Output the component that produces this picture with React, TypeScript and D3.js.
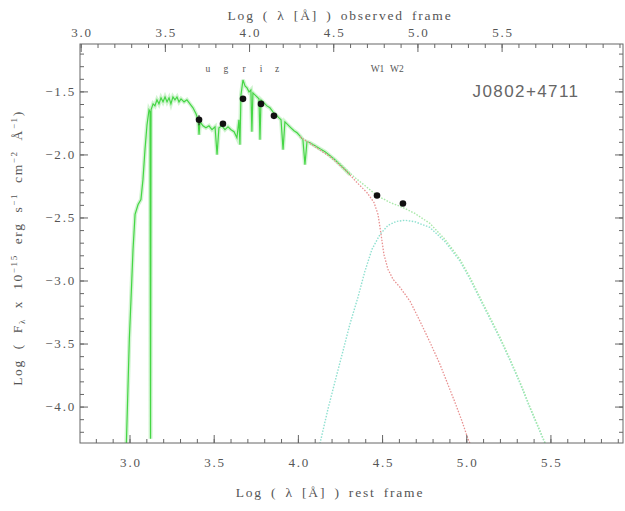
import React from "react";
import * as d3 from "d3";

// ---- data (rest-frame log wavelength, log flux) ----
const specX = [2.976, 2.986, 2.996, 3.006, 3.018, 3.030, 3.048, 3.065, 3.077, 3.089, 3.101, 3.113, 3.119, 3.122, 3.125, 3.137, 3.148, 3.160, 3.172, 3.184, 3.196, 3.208, 3.220, 3.232, 3.243, 3.255, 3.267, 3.279, 3.291, 3.303, 3.321, 3.338, 3.356, 3.374, 3.392, 3.404, 3.410, 3.416, 3.433, 3.451, 3.469, 3.487, 3.505, 3.517, 3.528, 3.546, 3.564, 3.582, 3.600, 3.618, 3.635, 3.647, 3.653, 3.659, 3.671, 3.683, 3.695, 3.707, 3.718, 3.724, 3.730, 3.748, 3.766, 3.772, 3.778, 3.796, 3.813, 3.831, 3.849, 3.867, 3.885, 3.897, 3.909, 3.920, 3.938, 3.956, 3.974, 3.992, 4.009, 4.027, 4.039, 4.051, 4.069, 4.099, 4.128, 4.158, 4.188, 4.217, 4.247, 4.277, 4.306];
const specY = [-4.40, -3.935, -3.460, -3.144, -2.749, -2.472, -2.393, -2.354, -2.196, -1.958, -1.761, -1.642, -1.658, -4.251, -1.642, -1.595, -1.611, -1.563, -1.595, -1.547, -1.579, -1.540, -1.579, -1.547, -1.595, -1.540, -1.563, -1.540, -1.579, -1.555, -1.579, -1.563, -1.595, -1.626, -1.674, -1.721, -1.840, -1.737, -1.769, -1.785, -1.769, -1.800, -1.777, -1.998, -1.785, -1.769, -1.800, -1.777, -1.800, -1.816, -1.864, -1.721, -1.919, -1.524, -1.405, -1.453, -1.468, -1.500, -1.484, -1.816, -1.508, -1.532, -1.555, -1.879, -1.563, -1.587, -1.611, -1.626, -1.658, -1.682, -1.706, -1.721, -1.958, -1.737, -1.761, -1.785, -1.808, -1.824, -1.848, -1.879, -2.077, -1.895, -1.903, -1.927, -1.951, -1.974, -2.006, -2.038, -2.077, -2.117, -2.156];

const totalX = [4.009, 4.128, 4.247, 4.336, 4.395, 4.467, 4.544, 4.621, 4.692, 4.781, 4.871, 4.960, 5.019, 5.078, 5.138, 5.197, 5.257, 5.316, 5.375, 5.435, 5.470];
const totalY = [-1.856, -1.958, -2.069, -2.180, -2.243, -2.322, -2.377, -2.417, -2.464, -2.543, -2.670, -2.828, -2.970, -3.128, -3.287, -3.445, -3.619, -3.800, -3.998, -4.188, -4.298];

const dustX = [4.128, 4.176, 4.217, 4.265, 4.306, 4.354, 4.395, 4.437, 4.485, 4.532, 4.580, 4.633, 4.692, 4.781, 4.871, 4.960, 5.019, 5.078, 5.138, 5.197, 5.257, 5.316, 5.375, 5.435, 5.470];
const dustY = [-4.290, -4.014, -3.800, -3.555, -3.342, -3.128, -2.923, -2.749, -2.630, -2.559, -2.528, -2.518, -2.530, -2.575, -2.688, -2.842, -2.984, -3.142, -3.300, -3.457, -3.630, -3.810, -4.006, -4.196, -4.306];

const diskX = [4.009, 4.099, 4.188, 4.277, 4.348, 4.407, 4.449, 4.473, 4.491, 4.508, 4.532, 4.562, 4.603, 4.663, 4.722, 4.781, 4.840, 4.882, 4.929, 4.971, 5.007, 5.025];
const diskY = [-1.856, -1.935, -2.014, -2.117, -2.219, -2.298, -2.377, -2.472, -2.630, -2.789, -2.907, -2.986, -3.049, -3.160, -3.318, -3.484, -3.658, -3.800, -3.959, -4.109, -4.251, -4.306];

const photX = [3.410, 3.552, 3.671, 3.778, 3.855, 4.467, 4.621];
const photY = [-1.721, -1.753, -1.555, -1.595, -1.690, -2.322, -2.385];
const photErrLo = [-1.765, -1.770, -1.570, -1.610, -1.705, -2.335, -2.398];
const photErrHi = [-1.685, -1.736, -1.540, -1.580, -1.675, -2.309, -2.372];

const filterNames = ["u", "g", "r", "i", "z", "W1", "W2"];
const filterX = [3.463, 3.570, 3.677, 3.778, 3.873, 4.470, 4.585];

const xMajor = [3.0, 3.5, 4.0, 4.5, 5.0, 5.5];
const yMajor = [-4.0, -3.5, -3.0, -2.5, -2.0, -1.5];
const obsOffset = 0.29;
const objectName = "J0802+4711";

const W = 625, H = 511;
const L = 80, R = 623, T = 44, B = 443;

export default function App() {
  const x = d3.scaleLinear().domain([2.703, 5.928]).range([L, R]);
  const y = d3.scaleLinear().domain([-4.285, -1.12]).range([B, T]);
  const mk = (xs: number[], ys: number[]) =>
    d3.line<number>().x((_, i) => x(xs[i])).y((_, i) => y(ys[i]))(xs.map((v) => v)) || "";

  const font = "'Liberation Serif', 'DejaVu Serif', serif";
  const tc = "#555";
  const ls = 1.8;

  const xMinor = d3.range(28, 60).map((v) => v / 10);
  const yMinor = d3.range(-42, -11).map((v) => v / 10);
  const obsMajor = [3.0, 3.5, 4.0, 4.5, 5.0, 5.5];
  const obsMinor = d3.range(30, 63).map((v) => v / 10);

  return (
    <div style={{ position: "absolute", left: 0, top: 0 }}>
      <svg width={W} height={H} style={{ display: "block", background: "#fff" }}>
        <defs>
          <clipPath id="plotclip">
            <rect x={L} y={T} width={R - L} height={B - T} />
          </clipPath>
        </defs>
        <g clipPath="url(#plotclip)">
          <path d={mk(specX, specY)} fill="none" stroke="#7ee07e" strokeWidth={4} strokeOpacity={0.35} />
          <path d={mk(specX, specY)} fill="none" stroke="#45d645" strokeWidth={1.2} />
          <path d={mk(dustX, dustY)} fill="none" stroke="#8fe0d0" strokeWidth={1.4} strokeDasharray="1.5 1.5" />
          <path d={mk(totalX, totalY)} fill="none" stroke="#a8e8a8" strokeWidth={1.4} strokeDasharray="1.5 1.5" />
          <path d={mk(diskX, diskY)} fill="none" stroke="#e89090" strokeWidth={1.3} strokeDasharray="1.5 1.5" />
          {photX.map((v, i) => (
            <g key={i}>
              <line x1={x(v)} x2={x(v)} y1={y(photErrLo[i])} y2={y(photErrHi[i])} stroke="#111" strokeWidth={1} />
              <circle cx={x(v)} cy={y(photY[i])} r={3.3} fill="#111" />
            </g>
          ))}
        </g>
        {/* frame */}
        <rect x={L} y={T} width={R - L} height={B - T} fill="none" stroke="#666" strokeWidth={1} />
        {/* bottom ticks */}
        {xMinor.map((v, i) => (
          <line key={"bm" + i} x1={x(v)} x2={x(v)} y1={B} y2={B - 4} stroke="#666" />
        ))}
        {xMajor.map((v, i) => (
          <g key={"bM" + i}>
            <line x1={x(v)} x2={x(v)} y1={B} y2={B - 8} stroke="#666" />
            <text x={x(v) + ls / 2} y={467} textAnchor="middle" fontFamily={font} fontSize={13} letterSpacing={ls} fill={tc}>{v.toFixed(1)}</text>
          </g>
        ))}
        {/* top ticks (observed frame) */}
        {obsMinor.map((v, i) => {
          const px = x(v - obsOffset);
          return px >= L && px <= R ? <line key={"tm" + i} x1={px} x2={px} y1={T} y2={T + 4} stroke="#666" /> : null;
        })}
        {obsMajor.map((v, i) => {
          const px = x(v - obsOffset);
          return (
            <g key={"tM" + i}>
              <line x1={px} x2={px} y1={T} y2={T + 8} stroke="#666" />
              <text x={px + ls / 2} y={37} textAnchor="middle" fontFamily={font} fontSize={13} letterSpacing={ls} fill={tc}>{v.toFixed(1)}</text>
            </g>
          );
        })}
        {/* left / right ticks */}
        {yMinor.map((v, i) => (
          <g key={"ym" + i}>
            <line x1={L} x2={L + 4} y1={y(v)} y2={y(v)} stroke="#666" />
            <line x1={R} x2={R - 4} y1={y(v)} y2={y(v)} stroke="#666" />
          </g>
        ))}
        {yMajor.map((v, i) => (
          <g key={"yM" + i}>
            <line x1={L} x2={L + 8} y1={y(v)} y2={y(v)} stroke="#666" />
            <line x1={R} x2={R - 8} y1={y(v)} y2={y(v)} stroke="#666" />
            <text x={76} y={y(v) + 4} textAnchor="end" fontFamily={font} fontSize={13} letterSpacing={ls} fill={tc}>{"\u2212" + Math.abs(v).toFixed(1)}</text>
          </g>
        ))}
        {/* axis titles */}
        <text x={340} y={20} textAnchor="middle" fontFamily={font} fontSize={13.5} letterSpacing={1.8} wordSpacing={3} fill={tc}>Log ( λ [Å] ) observed frame</text>
        <text x={330} y={497} textAnchor="middle" fontFamily={font} fontSize={13.5} letterSpacing={1.8} wordSpacing={3} fill={tc}>Log ( λ [Å] ) rest frame</text>
        <text transform="translate(22,248) rotate(-90)" textAnchor="middle" fontFamily={font} fontSize={13.5} letterSpacing={1.6} wordSpacing={5} fill={tc}>
          Log ( F<tspan fontSize={9} dy={3}>λ</tspan><tspan dy={-3}> x 10</tspan><tspan fontSize={9} dy={-5}>−15</tspan><tspan dy={5}> erg s</tspan><tspan fontSize={9} dy={-5}>−1</tspan><tspan dy={5}> cm</tspan><tspan fontSize={9} dy={-5}>−2</tspan><tspan dy={5}> Å</tspan><tspan fontSize={9} dy={-5}>−1</tspan><tspan dy={5}>)</tspan>
        </text>
        {/* filter labels */}
        {filterNames.map((n, i) => (
          <text key={"f" + i} x={x(filterX[i])} y={72} textAnchor="middle" fontFamily={font} fontSize={9.5} fill="#555">{n}</text>
        ))}
        <text x={526} y={97} textAnchor="middle" fontFamily="'Liberation Sans', 'DejaVu Sans', sans-serif" fontSize={17} letterSpacing={1.4} fill="#666">{objectName}</text>
      </svg>
    </div>
  );
}
